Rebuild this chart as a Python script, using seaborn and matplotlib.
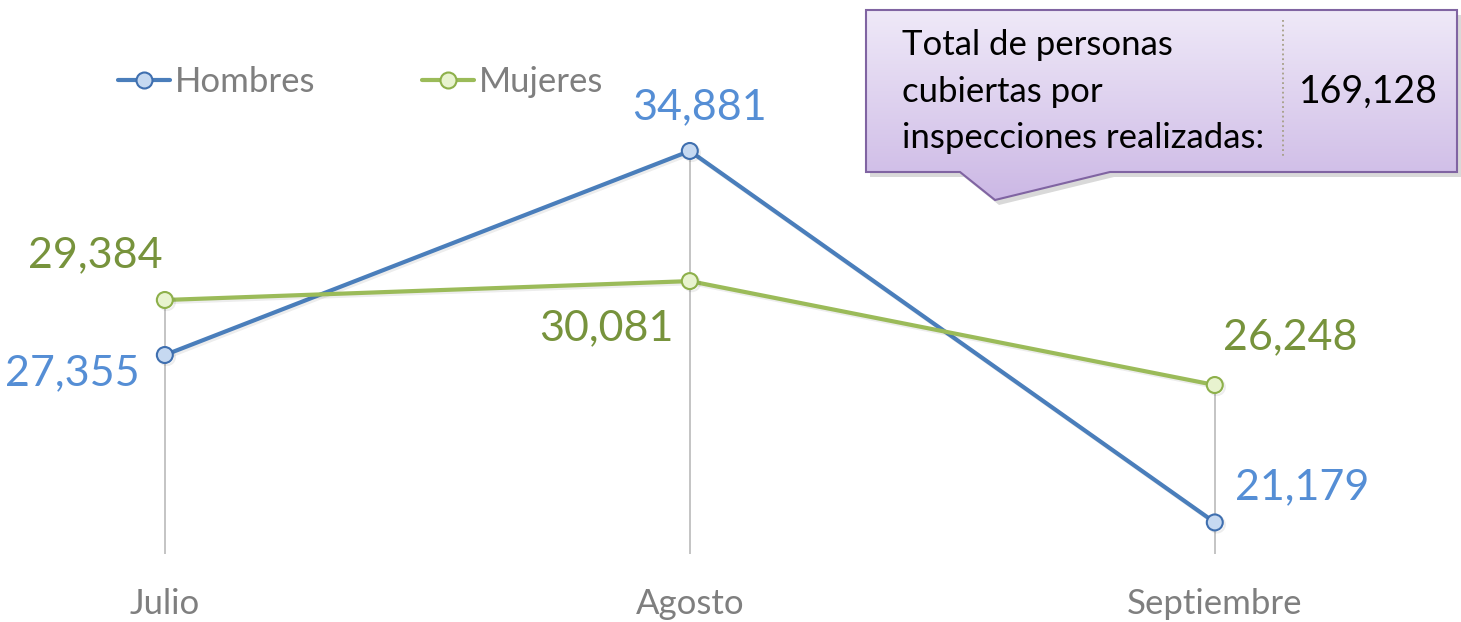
import matplotlib
matplotlib.use('Agg')
import numpy as np
import pandas as pd
import matplotlib.pyplot as plt
import matplotlib.patheffects as pe
import seaborn as sns
from matplotlib.lines import Line2D
from matplotlib.patches import Polygon
from matplotlib.colors import LinearSegmentedColormap

# Data
meses = ['Julio', 'Agosto', 'Septiembre']
hombres = [27355, 34881, 21179]
mujeres = [29384, 30081, 26248]
series = ['Hombres', 'Mujeres']
callout_lines = ['Total de personas', 'cubiertas por', 'inspecciones realizadas:']

df = pd.DataFrame({
    'pos': list(range(len(meses))) * 2,
    'mes': meses * 2,
    'sexo': ['Hombres'] * 3 + ['Mujeres'] * 3,
    'personas': hombres + mujeres,
})
total = int(df['personas'].sum())

sns.set_theme(style='white')
plt.rcParams['font.family'] = ['Lato', 'DejaVu Sans']

W, H = 1461, 622
fig = plt.figure(figsize=(W / 100, H / 100), dpi=100)
bottom = (H - 554.4) / H
ax = fig.add_axes([0, bottom, 1, 1 - bottom])

estilos = {
    'Hombres': dict(line='#4A7EBB', face='#C6D9F1', edge='#3F6FAF', label='#558ED5'),
    'Mujeres': dict(line='#9BBB59', face='#E8F3CF', edge='#8DB04A', label='#77933C'),
}

# drop lines from the highest point of each month
top = df.groupby('pos')['personas'].max()
ax.vlines(top.index, 20000, top.values, color='#BFBFBF', lw=1.3, zorder=1)

for sexo in series:
    st = estilos[sexo]
    sns.lineplot(data=df[df.sexo == sexo], x='pos', y='personas', ax=ax,
                 color=st['line'], lw=3, marker='o', ms=11.5,
                 markerfacecolor=st['face'], markeredgecolor=st['edge'],
                 markeredgewidth=1.5, legend=False, zorder=3,
                 path_effects=[pe.SimpleLineShadow(offset=(1.5, -1.5), alpha=0.08),
                               pe.Normal()])

# data labels (offsets in pixels)
offsets = {
    ('Hombres', 0): (-93, -18), ('Hombres', 1): (10, 44), ('Hombres', 2): (87, 35),
    ('Mujeres', 0): (-70, 45), ('Mujeres', 1): (-83, -47), ('Mujeres', 2): (75, 48),
}
for _, r in df.iterrows():
    ax.annotate(f"{r.personas:,}", (r.pos, r.personas),
                xytext=offsets[(r.sexo, r.pos)], textcoords='offset pixels',
                ha='center', va='center', fontsize=31,
                color=estilos[r.sexo]['label'])

ax.set_xlim(-0.314, 2.469)
ax.set_ylim(20000, 40450)
ax.set_xticks(range(len(meses)))
ax.set_xticklabels(meses)
ax.set_yticks([])
ax.set_xlabel('')
ax.set_ylabel('')
ax.tick_params(axis='x', length=0, pad=24, labelsize=25, labelcolor='#7F7F7F')
sns.despine(ax=ax, left=True, bottom=True)

handles = [Line2D([], [], color=estilos[s]['line'], lw=3, marker='o', ms=11.5,
                  markerfacecolor=estilos[s]['face'],
                  markeredgecolor=estilos[s]['edge'], markeredgewidth=1.5)
           for s in series]
fig.legend(handles, series, loc='center left',
           bbox_to_anchor=(118 / W, 1 - 82 / H), ncol=2, frameon=False,
           fontsize=25, handlelength=1.5, handletextpad=0.15,
           columnspacing=3.05, borderpad=0, borderaxespad=0,
           labelcolor='#7F7F7F')

# callout box drawn in pixel coordinates
ov = fig.add_axes([0, 0, 1, 1], zorder=5)
ov.patch.set_alpha(0)
ov.axis('off')
verts = [(866, 10), (1457, 10), (1457, 172), (1110, 172), (995, 200),
         (960, 172), (866, 172)]
ov.add_patch(Polygon([(x + 4, y + 5) for x, y in verts], closed=True,
                     fc='black', ec='none', alpha=0.15))
shape = Polygon(verts, closed=True, fc='none', ec='#8064A2', lw=1.5, zorder=3)
ov.add_patch(shape)
grad = np.linspace(0, 1, 256).reshape(-1, 1)
cmap = LinearSegmentedColormap.from_list('callout', ['#EFE9F8', '#CCB8E5'])
im = ov.imshow(grad, cmap=cmap, extent=(866, 1457, 200, 10), aspect='auto', zorder=2)
im.set_clip_path(shape)
ov.plot([1283, 1283], [20, 158], ls=':', color='#A59F86', lw=1.3, zorder=4)
for i, linea in enumerate(callout_lines):
    ov.text(902, 45 + 46.5 * i, linea, va='center', ha='left',
            fontsize=25, color='black', zorder=4)
ov.text(1368, 92, f"{total:,}", va='center', ha='center', fontsize=27,
        color='black', zorder=4)
ov.set_xlim(0, W)
ov.set_ylim(H, 0)

fig.savefig('out.png', dpi=100)
